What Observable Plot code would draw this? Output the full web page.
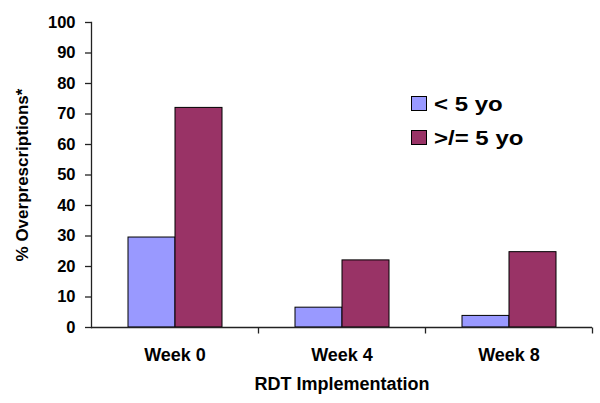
<!DOCTYPE html>
<html>
<head>
<meta charset="utf-8">
<script src="https://cdn.jsdelivr.net/npm/d3@7"></script>
<script src="https://cdn.jsdelivr.net/npm/@observablehq/plot@0.6"></script>
<style>
  html, body { margin: 0; padding: 0; background: white; }
  #wrap { position: relative; width: 600px; height: 403px; font-family: "Liberation Sans", Arial, sans-serif; }
  .lg-row { position: absolute; left: 411px; height: 16px; }
  .lg-sw { position: absolute; left: 0; top: 0; width: 16px; height: 15px; box-sizing: border-box; border: 1px solid black; }
  .lg-tx { position: absolute; left: 22.5px; top: -2px; font-size: 20px; line-height: 20px; font-weight: bold; white-space: nowrap; color: black;
           transform: scaleX(1.2); transform-origin: 0 50%; }
  #wrap svg g[aria-label="y-axis label"] { font-size: 17px; }
</style>
</head>
<body>
<div id="wrap"></div>
<script>
const weeks = ["Week 0", "Week 4", "Week 8"];
const series = ["< 5 yo", ">/= 5 yo"];
const under5 = [29.5, 6.5, 3.8];
const over5 = [72, 22, 24.7];
const colors = ["#9999FF", "#993366"];
const yTicks = [0, 10, 20, 30, 40, 50, 60, 70, 80, 90, 100];
const yLabel = "% Overprescriptions*";
const xLabel = "RDT Implementation";

const data = weeks.flatMap((w, i) => [
  {week: w, group: series[0], value: under5[i]},
  {week: w, group: series[1], value: over5[i]}
]);

const tickDown = {draw(ctx) { ctx.moveTo(0, 0); ctx.lineTo(0, 6); }};

const chart = Plot.plot({
  width: 600,
  height: 403,
  marginTop: 22,
  marginRight: 8,
  marginBottom: 76,
  marginLeft: 90,
  style: {fontFamily: "Liberation Sans, Arial, sans-serif", fontWeight: "bold", color: "black", background: "white"},
  fx: {domain: weeks, padding: 0},
  x: {domain: series, paddingInner: 0, paddingOuter: 0.76, axis: null},
  y: {domain: [0, 100]},
  color: {domain: series, range: colors},
  marks: [
    Plot.barY(data, {fx: "week", x: "group", y: "value", fill: "group", stroke: "black", strokeWidth: 1}),
    Plot.ruleY([0], {stroke: "#222", strokeWidth: 1.3}),
    Plot.frame({anchor: "left", facetAnchor: "left", stroke: "#222", strokeWidth: 1.3}),
    Plot.dot([0], {frameAnchor: "bottom-right", symbol: tickDown, stroke: "#222", strokeWidth: 1.3, fill: "none"}),
    Plot.axisY({ticks: yTicks, tickSize: 6, tickPadding: 10, fontSize: 16.5, stroke: "#222", strokeWidth: 1.3,
      label: yLabel, labelAnchor: "center", labelArrow: false, labelOffset: 75.5}),
    Plot.axisFx({anchor: "bottom", tickSize: 0, tickPadding: 21, fontSize: 18,
      label: xLabel, labelAnchor: "center", labelArrow: false, labelOffset: 62})
  ]
});

const wrap = document.getElementById("wrap");
wrap.appendChild(chart);

series.forEach((s, i) => {
  const row = document.createElement("div");
  row.className = "lg-row";
  row.style.top = (96 + i * 34) + "px";
  const sw = document.createElement("div");
  sw.className = "lg-sw";
  sw.style.background = colors[i];
  const tx = document.createElement("div");
  tx.className = "lg-tx";
  tx.textContent = s;
  row.appendChild(sw);
  row.appendChild(tx);
  wrap.appendChild(row);
});
</script>
</body>
</html>
